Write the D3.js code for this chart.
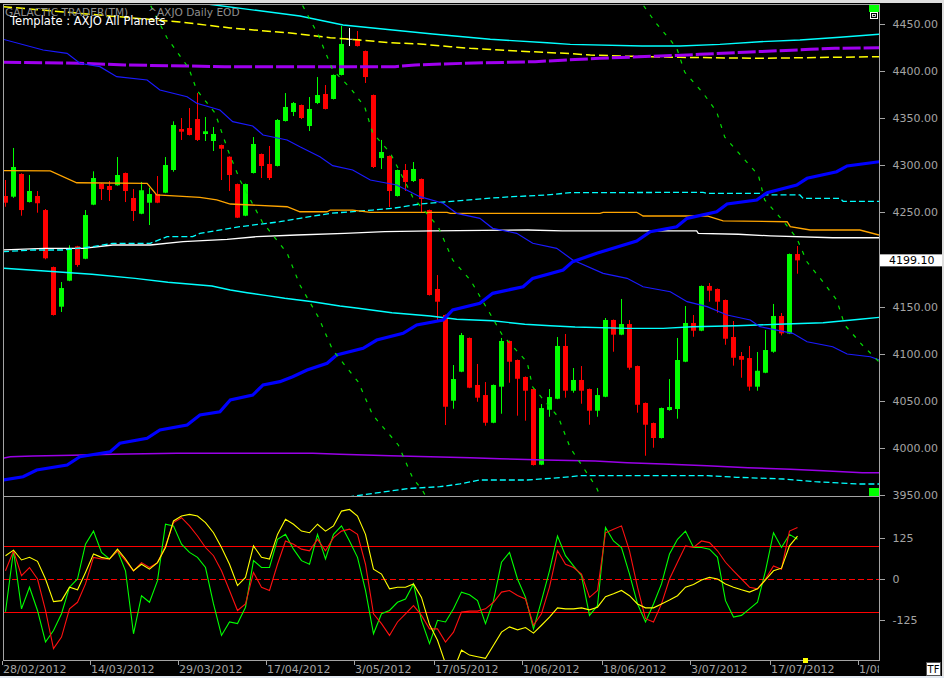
<!DOCTYPE html>
<html><head><meta charset="utf-8">
<script src="https://cdn.jsdelivr.net/npm/d3@7"></script>
<style>body{margin:0;background:#000;overflow:hidden}svg{display:block}</style>
</head><body>
<svg id="chart" width="944" height="678"></svg>
<script>
// ---- candle data (one per trading day, index 0 = 28/02/2012) ----
const opens = [4267.4,4266.7,4290.8,4261.0,4267.4,4252.5,4192.0,4149.9,4177.5,4214.0,4200.8,4258.2,4280.5,4278.0,4278.8,4291.8,4265.3,4248.6,4260.3,4269.5,
4270.9,4295.0,4338.5,4339.6,4349.1,4333.2,4325.8,4321.5,4309.1,4280.1,4246.5,4291.8,4312.0,4301.4,4299.3,4347.0,4356.6,4364.0,4341.7,4366.1,
4375.7,4370.4,4395.9,4433.8,4434.1,4421.3,4374.6,4307.7,4309.9,4267.4,4295.0,4283.3,4285.5,4252.5,4168.7,4141.1,4050.1,4080.9,4116.7,4066.8,
4056.1,4026.7,4065.0,4113.5,4093.3,4075.3,4062.5,3982.2,4040.5,4052.2,4108.2,4060.7,4072.1,4062.5,4039.5,4054.3,4135.8,4120.2,4131.5,4086.9,
4047.7,4026.4,4010.5,4040.2,4041.3,4091.5,4132.6,4124.4,4171.9,4168.7,4157.0,4117.7,4097.5,4095.4,4065.0,4079.8,4102.1,4140.0,4121.3,4205.8];
const highs = [4284.4,4318.4,4291.5,4289.7,4272.7,4253.6,4192.5,4176.1,4215.1,4214.5,4252.5,4293.6,4281.0,4283.3,4308.8,4292.3,4274.8,4282.3,4276.2,4288.6,
4308.8,4346.7,4350.2,4360.8,4376.7,4351.3,4340.7,4322.0,4309.6,4280.6,4280.6,4330.0,4312.5,4320.5,4349.1,4376.7,4367.2,4364.5,4372.5,4393.7,
4385.2,4396.4,4447.9,4445.8,4442.6,4421.8,4375.1,4326.9,4310.4,4295.5,4301.4,4303.5,4286.0,4253.0,4183.5,4141.6,4088.0,4122.0,4117.2,4089.1,
4069.9,4067.3,4116.7,4114.0,4093.8,4075.8,4063.0,4046.6,4062.5,4117.7,4120.9,4084.8,4086.9,4063.0,4063.6,4137.9,4136.3,4158.1,4135.8,4087.4,
4048.2,4026.9,4042.8,4073.1,4116.7,4150.6,4141.1,4172.4,4175.0,4169.2,4157.5,4134.7,4101.8,4108.2,4101.8,4125.1,4152.8,4143.2,4206.3,4214.3];
const lows = [4256.0,4265.5,4246.5,4260.5,4249.7,4200.2,4140.5,4144.3,4177.0,4192.3,4200.3,4257.7,4263.2,4262.1,4278.3,4261.0,4240.9,4248.1,4236.6,4259.8,
4270.4,4293.2,4326.9,4331.7,4325.8,4325.8,4315.2,4284.4,4272.7,4244.0,4246.0,4291.3,4286.5,4284.4,4298.8,4346.5,4352.3,4349.1,4336.4,4365.0,
4359.3,4369.9,4395.4,4426.6,4426.1,4387.4,4297.1,4296.1,4255.7,4266.9,4272.7,4282.3,4250.4,4161.8,4135.0,4024.3,4041.6,4080.4,4063.4,4049.0,
4023.6,4026.2,4036.3,4069.2,4034.2,4028.9,3981.3,3981.7,4033.1,4051.7,4053.3,4058.6,4046.9,4024.6,4033.1,4053.8,4102.1,4119.7,4083.0,4037.4,
3991.7,4000.2,4010.0,4039.5,4031.0,4091.0,4118.0,4123.9,4155.2,4143.5,4109.5,4087.3,4074.5,4060.7,4060.7,4079.3,4101.0,4119.5,4120.8,4184.9];
const closes = [4260.3,4298.2,4252.5,4272.7,4259.7,4201.3,4141.1,4169.7,4211.5,4194.2,4247.2,4286.5,4274.8,4273.8,4289.7,4272.7,4251.5,4273.5,4269.5,4260.3,
4300.3,4342.8,4335.7,4332.2,4326.9,4336.1,4333.2,4317.6,4289.7,4244.4,4280.1,4322.6,4299.3,4286.5,4348.1,4361.9,4366.1,4350.2,4359.8,4374.6,
4359.8,4395.9,4428.8,4433.8,4426.6,4393.7,4298.2,4314.1,4272.7,4295.0,4282.3,4296.1,4264.2,4162.3,4155.2,4043.7,4073.1,4119.8,4063.9,4053.3,
4026.7,4066.8,4113.5,4091.5,4073.4,4060.7,3981.8,4042.3,4054.0,4108.2,4060.7,4072.1,4060.7,4039.5,4056.1,4135.8,4120.2,4131.5,4085.1,4045.8,
4024.6,4010.5,4042.3,4043.4,4093.3,4132.6,4124.4,4171.9,4166.9,4155.2,4115.9,4095.7,4093.6,4065.0,4081.9,4103.9,4140.0,4121.6,4205.8,4199.1];
const lastPrice = 4199.10;

// ---- oscillator panel (one value per day) ----
const oscGreen = [-100,86,-91,-25,-96,-192,-157,-106,-25,0,106,146,81,61,86,25,-167,-51,-71,-5,
167,162,106,81,66,35,-76,-172,-131,-136,-86,56,35,35,121,136,91,56,45,136,
61,136,162,116,66,-35,-167,-106,-96,-71,-61,-15,-126,-197,-126,-131,-91,-40,-48,-66,
-136,-66,51,81,0,-56,-152,-66,25,131,71,40,10,-111,-81,157,116,96,15,-76,
-131,-76,-15,76,121,146,96,96,91,66,-66,-116,-111,-91,-71,25,141,96,136,121];
const oscRed = [25,86,10,35,0,-96,-212,-177,-91,-71,-15,66,61,61,86,56,25,50,35,50,
101,172,187,162,131,96,71,25,-35,-96,-76,20,-25,-35,45,116,106,91,86,121,
86,126,146,152,136,45,-106,-136,-172,-131,-106,-81,-111,-152,-152,-192,-162,-101,-98,-98,
-91,-71,-40,-35,-50,-61,-141,-106,-25,86,45,35,15,-56,-35,141,152,162,86,-25,
-121,-131,-76,0,51,101,96,116,111,86,51,25,0,-25,-30,0,40,30,146,157];
const oscYellow = [71,88,58,66,54,0,-69,-66,-25,-33,20,76,66,61,91,61,25,45,30,50,
96,177,192,197,192,172,141,96,45,-20,5,101,66,61,136,182,167,146,141,167,
146,162,207,212,192,136,30,15,-30,-25,-25,-15,-56,-139,-187,-258,-278,-217,-232,-237,
-242,-202,-162,-146,-155,-148,-165,-141,-116,-88,-91,-91,-88,-94,-86,-54,-45,-35,-51,-76,
-88,-88,-76,-64,-51,-25,-17,-3,5,0,-15,-25,-33,-40,-30,-3,25,33,101,131];
const oscLevels = [100, -100];

// ---- axis ticks (4200 label is covered by the last-price tag in the original) ----
const priceTicks = [3950,4000,4050,4100,4150,4250,4300,4350,4400,4450];
const oscTicks = [125, 0, -125];
const dateLabels = ["28/02/2012","14/03/2012","29/03/2012","17/04/2012","3/05/2012","17/05/2012","1/06/2012","18/06/2012","3/07/2012","17/07/2012","1/08/2012"];
const dateIndex = [0,11,22,33,44,54,65,75,86,96,107];

// ---- overlay (planet) lines: [day index, price] ----
const cyanTop = [[-1,4500],[25.2,4471.2],[36.8,4458.5],[42.2,4448.9],[48.4,4443.6],[53.4,4439.4],[60.6,4433.8],[67.7,4430.1],[70.6,4428.4],[79.6,4426.6],[84.3,4426.6],[89.3,4428.4],[94.3,4431.2],[99.3,4433],[104.3,4435.9],[109.2,4439.1]];
const yellowTop = [[-0.3,4468.4],[21.8,4452.1],[28.1,4445.8],[35.6,4440.4],[40.6,4435.5],[44.3,4433],[48.1,4430.1],[51.8,4428.8],[55.6,4425.9],[58.1,4424.2],[61.8,4422.4],[65.6,4420.6],[69.9,4418.9],[73.1,4417.1],[76.8,4416],[84.3,4414.6],[94.3,4413.6],[103.1,4414.6],[109.2,4415.3]];
const purpleTop = [[-0.3,4409.3],[9.3,4408.3],[14.9,4406.5],[27.4,4404.7],[48.7,4404.7],[51.2,4406.5],[57.4,4408.3],[66.2,4410],[71.2,4412.3],[74.3,4413.6],[81.8,4416],[86.8,4417.8],[92.4,4420],[96.8,4421.7],[100.6,4423.1],[103.7,4424.2],[109.2,4424.8]];
const blueThin = [[-0.3,4433.8],[4.7,4422.4],[7.7,4418.9],[9.3,4408.3],[11.8,4404.7],[13.9,4394.1],[17.7,4390.6],[19.3,4379.9],[22.7,4372.8],[23.9,4365.8],[26.8,4358.7],[28.4,4346.3],[30.9,4341.7],[32.2,4332.2],[35.2,4326.9],[36.8,4319.7],[39.3,4309.1],[40.9,4299.6],[43.4,4295],[45.6,4284.4],[48.9,4279.1],[51.8,4266.7],[54.7,4259.7],[56.4,4249],[59.3,4243.7],[60.9,4233.1],[63.9,4227.8],[65.9,4217.2],[68.9,4211.9],[70.9,4199.5],[74.7,4185.3],[77.7,4180],[79.7,4171.1],[83.1,4165.8],[85.2,4155.2],[87.7,4149.9],[90.2,4141.1],[93.1,4135.8],[94.3,4128.7],[98.4,4121.6],[100.2,4112.7],[103.4,4107.4],[105.2,4099.7],[108.1,4096.8],[109.2,4093.3]];
const blueThick = [[-0.3,3965.9],[2.2,3969.4],[3.9,3976.5],[7.7,3981.8],[9.3,3990.6],[13.1,3995.9],[14.3,4004.9],[17.7,4010.2],[19.3,4019],[22.7,4024.3],[24.3,4034.9],[26.8,4038.4],[28.1,4050.8],[30.9,4056.1],[32.2,4066.8],[34.3,4070.3],[35.9,4075.6],[37.7,4082.7],[40.2,4089.8],[41.4,4098.6],[44.7,4105.7],[46.4,4114.5],[49.7,4121.6],[51.4,4130.5],[54.7,4135.8],[55.9,4146.4],[59.3,4153.5],[60.9,4164.1],[64.7,4171.1],[65.9,4180],[69.7,4188.8],[70.9,4197.7],[73.9,4206.6],[78.9,4219.6],[80.6,4229.5],[83.9,4234.8],[85.2,4243.7],[88.9,4250.7],[90.2,4258.9],[93.9,4263.2],[95.2,4270.9],[98.9,4279.1],[100.2,4286.2],[103.9,4293.2],[105.2,4299.3],[109.2,4303.8]];
const orangeLine = [[-0.3,4294.3],[5.6,4294],[8.9,4281.5],[17.7,4280.9],[18.9,4268.5],[24.3,4266],[26.4,4263.2],[28.1,4258.9],[35.2,4256],[36.8,4250.7],[40.2,4250.7],[40.6,4252.5],[43.4,4252.5],[45.6,4250.1],[55.2,4250.1],[55.6,4249],[74.3,4249],[74.7,4250.1],[78.9,4250.1],[79.7,4246.2],[87.7,4246.2],[89.7,4240.9],[97.7,4240.1],[98.1,4234.8],[100.6,4231.3],[106.8,4231.3],[109.2,4226]];
const cyanDashMid = [[-0.3,4208.3],[3.4,4210.1],[7.2,4210.1],[10.9,4213.6],[13.4,4217.2],[18.1,4217.2],[20.2,4224.2],[23.4,4224.2],[24.3,4227.8],[29.3,4234.8],[34.3,4240.1],[36.8,4243.7],[40.6,4249],[45.9,4252.5],[48.4,4254.3],[51.8,4258.9],[55.2,4261.3],[60.2,4264.9],[63.4,4266.7],[67.7,4268.5],[70.6,4270.9],[87.2,4271.3],[87.7,4270.3],[94.3,4270.3],[94.7,4268.5],[99.3,4268.5],[99.7,4264.9],[104.3,4264.9],[104.7,4261.8],[109.2,4261.8]];
const whiteLine = [[-0.3,4210.1],[4.9,4211.9],[9.7,4211.9],[13.4,4215.4],[18.1,4215.4],[22.2,4218.9],[27.7,4221.4],[31.4,4224.2],[36.4,4226],[42.4,4227.8],[47.4,4229.5],[53.4,4230.3],[65.3,4231.3],[69.6,4230.3],[86.4,4230.3],[86.6,4227.8],[91.6,4226.8],[95.6,4225.1],[103.4,4223.1],[109.2,4223.1]];
const cyanLow = [[-0.3,4190.7],[4.9,4187.8],[10.8,4184.3],[16.2,4180],[20.3,4175.8],[25.8,4171.9],[28.1,4167.6],[30.2,4164.7],[32.7,4161.6],[34.9,4158.8],[38.4,4155.2],[41.8,4150.6],[44.1,4148.2],[48.3,4143.5],[53.1,4140],[56.4,4136.5],[60.9,4135],[64.9,4131.2],[68.1,4129.7],[71.2,4128.3],[77.8,4126.9],[82.2,4126.9],[85.9,4128.6],[91.4,4129.7],[96.6,4131.2],[102.2,4132.9],[106.8,4136.5],[109.2,4138.6]];
const purpleLow = [[-0.3,3989],[0.6,3990.6],[3.4,3991.4],[8.4,3992.1],[13.4,3993.2],[21.4,3994.3],[38.4,3994.3],[41.8,3993.2],[48.1,3991.7],[53.1,3990.6],[58.1,3989.6],[61.8,3988.5],[67.4,3987.1],[73.7,3986.1],[77.7,3984.3],[82.2,3982.9],[87.7,3981.1],[92.8,3979],[98.1,3977.3],[102.2,3975.8],[107.1,3973.7],[109.2,3973.7]];
const cyanDashLow = [[40.6,3944.7],[43.1,3948.2],[46,3951.8],[50.6,3957.1],[54.3,3958.8],[56.8,3961.7],[59.3,3965.9],[65.2,3965.9],[68.1,3967.7],[70.6,3969.4],[71.8,3970.5],[87.7,3970.5],[91.4,3968.8],[97.2,3967],[101.2,3964.1],[106.6,3961.7],[109.2,3961.7]];
const greenArc1 = [[17.6,4480],[18.1,4470.2],[20.2,4435.1],[22.9,4403.3],[23.9,4379.9],[26.2,4355.5],[27.8,4316.2],[29.3,4284.4],[32.1,4239.8],[35.2,4206.9],[36.8,4172.9],[39.1,4139],[40.9,4103.9],[44.1,4069.9],[45.9,4034.9],[49.1,4003.1],[50.9,3968],[52.1,3955.3],[52.8,3944.7]];
const greenArc2 = [[36.5,4480],[37.1,4470.2],[39.1,4438.3],[40.9,4401.2],[43.1,4382.1],[44.9,4361.9],[45.9,4334.3],[48.1,4313.1],[50.9,4266.3],[54.1,4234.5],[55.9,4199.5],[58.1,4178.3],[60.3,4146.4],[62.1,4119.8],[65.2,4091.2],[65.9,4064.6],[69.1,4032.8],[70.6,3999.9],[73.1,3968],[73.9,3957.4],[74.5,3945]];
const greenArc3 = [[79.2,4480],[79.7,4470.2],[81.2,4452.1],[83.1,4433],[83.9,4424.5],[84.9,4399],[87.2,4376.7],[88.9,4356.6],[89.9,4330],[92.1,4308.8],[94.1,4289.7],[94.9,4263.2],[97.1,4241.9],[98.9,4222.8],[100.2,4197.3],[102.2,4176.1],[103.9,4157],[104.9,4130.5],[107.1,4109.2],[108.1,4100.7],[109.2,4091.2]];

// ---- build ----
const svg = d3.select('#chart');
const W = 944, H = 678;
const L = 3, R = 879, T = 4, MB = 496, OB = 660;
const FONT = '"DejaVu Sans", Verdana, sans-serif';
const GREY = '#a4a4a4';

svg.append('rect').attr('width', W).attr('height', H).attr('fill', '#000');

const x = d3.scaleLinear().domain([-0.3125, 109.1875]).range([L, R]);
const y = d3.scaleLinear().domain([3950, 4450]).range([495, 24]);
const yo = d3.scaleLinear().domain([-125, 125]).range([620, 538]);

const defs = svg.append('defs');
defs.append('clipPath').attr('id', 'cm').append('rect').attr('x', L + 1).attr('y', T + 1).attr('width', R - L - 1).attr('height', MB - T - 1);
defs.append('clipPath').attr('id', 'co').append('rect').attr('x', L + 1).attr('y', MB + 1).attr('width', R - L - 1).attr('height', OB - MB - 1);
defs.append('clipPath').attr('id', 'cx').append('rect').attr('x', 0).attr('y', OB).attr('width', R).attr('height', H - OB);

const main = svg.append('g').attr('clip-path', 'url(#cm)');
const osc = svg.append('g').attr('clip-path', 'url(#co)');

// candles
const days = d3.range(opens.length);
const candleCol = i => closes[i] > opens[i] ? '#00ff00' : (closes[i] < opens[i] ? '#ff0000' : '#ffffff');
main.append('g').selectAll('rect').data(days.filter(i => closes[i] !== opens[i])).join('rect')
  .attr('x', i => x(i) - 0.5).attr('width', 1)
  .attr('y', i => y(highs[i])).attr('height', i => y(lows[i]) - y(highs[i]))
  .attr('fill', candleCol);
main.append('g').selectAll('rect').data(days.filter(i => closes[i] !== opens[i])).join('rect')
  .attr('x', i => x(i) - 2.5).attr('width', 5)
  .attr('y', i => y(Math.max(opens[i], closes[i])))
  .attr('height', i => Math.max(1, Math.abs(y(opens[i]) - y(closes[i]))))
  .attr('fill', candleCol);
// doji (open == close) drawn as white cross
const dj = main.append('g').selectAll('g').data(days.filter(i => closes[i] === opens[i])).join('g');
dj.append('rect').attr('x', i => x(i) - 0.5).attr('width', 1).attr('y', i => y(highs[i])).attr('height', i => y(lows[i]) - y(highs[i])).attr('fill', '#fff');
dj.append('rect').attr('x', i => x(i) - 3).attr('width', 6).attr('y', i => y(opens[i]) - 0.5).attr('height', 1).attr('fill', '#fff');

// overlay lines
const ln = d3.line().x(d => x(d[0])).y(d => y(d[1]));
const overlays = [
  {d: purpleLow, c: '#9a00e8', w: 1.5, dash: null},
  {d: cyanDashLow, c: '#00ffff', w: 1.3, dash: '6,3'},
  {d: cyanLow, c: '#00ffff', w: 1.4, dash: null},
  {d: whiteLine, c: '#ffffff', w: 1.3, dash: null},
  {d: cyanDashMid, c: '#00ffff', w: 1.3, dash: '6,3'},
  {d: orangeLine, c: '#ffa500', w: 1.3, dash: null},
  {d: cyanTop, c: '#00ffff', w: 1.4, dash: null},
  {d: yellowTop, c: '#ffff00', w: 1.5, dash: '9,4'},
  {d: purpleTop, c: '#a000f0', w: 3, dash: '18,3'},
  {d: blueThin, c: '#1a1aff', w: 1.2, dash: null},
  {d: blueThick, c: '#0000ff', w: 3.2, dash: null},
  {d: greenArc1, c: '#00e000', w: 1.2, dash: '4,7'},
  {d: greenArc2, c: '#00e000', w: 1.2, dash: '4,7'},
  {d: greenArc3, c: '#00e000', w: 1.2, dash: '4,7'}
];
main.append('g').selectAll('path').data(overlays).join('path')
  .attr('d', o => ln(o.d)).attr('fill', 'none')
  .attr('stroke', o => o.c).attr('stroke-width', o => o.w)
  .attr('stroke-dasharray', o => o.dash);

// oscillator panel
osc.append('g').selectAll('line').data(oscLevels).join('line')
  .attr('x1', L).attr('x2', R).attr('y1', v => Math.round(yo(v)) + 0.5).attr('y2', v => Math.round(yo(v)) + 0.5)
  .attr('stroke', '#ff0000').attr('stroke-width', 1);
osc.append('line').attr('x1', L).attr('x2', R).attr('y1', Math.round(yo(0)) + 0.5).attr('y2', Math.round(yo(0)) + 0.5)
  .attr('stroke', '#ff0000').attr('stroke-width', 1.2).attr('stroke-dasharray', '6,3');
const ol = d3.line().x((v, i) => x(i)).y(v => yo(v));
osc.append('g').selectAll('path').data([[oscGreen, '#00ff00'], [oscRed, '#ff1010'], [oscYellow, '#ffff00']]).join('path')
  .attr('d', d => ol(d[0])).attr('fill', 'none').attr('stroke', d => d[1]).attr('stroke-width', 1.1);

// frame
const frame = svg.append('g').attr('stroke', GREY).attr('stroke-width', 1).attr('shape-rendering', 'crispEdges');
frame.append('line').attr('x1', L + 0.5).attr('x2', L + 0.5).attr('y1', T).attr('y2', OB + 1);
frame.append('line').attr('x1', R + 0.5).attr('x2', R + 0.5).attr('y1', T).attr('y2', OB + 1);
frame.append('line').attr('x1', L).attr('x2', R + 1).attr('y1', T + 0.5).attr('y2', T + 0.5);
frame.append('line').attr('x1', L).attr('x2', R + 1).attr('y1', MB + 0.5).attr('y2', MB + 0.5);
frame.append('line').attr('x1', L).attr('x2', R + 1).attr('y1', OB + 0.5).attr('y2', OB + 0.5);
svg.append('rect').attr('x', 0).attr('y', 0).attr('width', W).attr('height', 3).attr('fill', '#dedede');
svg.append('rect').attr('x', 942).attr('y', 0).attr('width', 2).attr('height', H).attr('fill', '#dedede');
svg.append('rect').attr('x', 0).attr('y', 676).attr('width', W).attr('height', 2).attr('fill', '#e4eaf2');

// axes
function styleAxis(g) {
  g.select('.domain').remove();
  g.selectAll('.tick line').attr('stroke', GREY).attr('shape-rendering', 'crispEdges');
  g.selectAll('.tick text').attr('fill', GREY).style('font-family', FONT).style('font-size', '11px');
}
svg.append('g').attr('transform', `translate(${R + 0.5},0)`)
  .call(d3.axisRight(y).tickValues(priceTicks).tickFormat(d3.format('.2f')).tickSize(5).tickPadding(8))
  .call(styleAxis);
svg.append('g').attr('transform', `translate(${R + 0.5},0)`)
  .call(d3.axisRight(yo).tickValues(oscTicks).tickFormat(d => String(d)).tickSize(5).tickPadding(8))
  .call(styleAxis);
const xa = svg.append('g').attr('clip-path', 'url(#cx)').append('g').attr('transform', `translate(-4,${OB + 0.5})`)
  .call(d3.axisBottom(x).tickValues(dateIndex).tickFormat((d, i) => dateLabels[i]).tickSize(4).tickPadding(1))
  .call(styleAxis);
xa.selectAll('.tick text').attr('text-anchor', 'start').attr('dx', 1);

// last price tag
const tag = svg.append('g').attr('transform', `translate(0,${y(lastPrice)})`);
tag.append('rect').attr('x', R + 1).attr('y', -6).attr('width', 62).attr('height', 12).attr('fill', '#ffffff');
tag.append('text').attr('x', 889).attr('y', 4).attr('fill', '#000').style('font-family', FONT).style('font-size', '11px').text(d3.format('.2f')(lastPrice));

// header texts
svg.append('text').attr('x', 5).attr('y', 16).attr('fill', '#8e8e8e').style('font-family', FONT).style('font-size', '10.6px').text('GALACTIC TRADER(TM)');
svg.append('text').attr('x', 148).attr('y', 16).attr('fill', '#8e8e8e').style('font-family', FONT).style('font-size', '10.6px').text('^AXJO Daily EOD');
svg.append('text').attr('x', 10).attr('y', 25).attr('fill', '#ffffff').style('font-family', FONT).style('font-size', '11.5px').text('Template : AXJO All Planets');

// small widgets
svg.append('rect').attr('x', 869).attr('y', 5).attr('width', 10).attr('height', 7).attr('fill', '#00ff00');
svg.append('rect').attr('x', 870.5).attr('y', 12.5).attr('width', 7).attr('height', 6).attr('fill', '#000').attr('stroke', '#fff');
svg.append('rect').attr('x', 872.5).attr('y', 14.5).attr('width', 3).attr('height', 2).attr('fill', '#000').attr('stroke', '#fff').attr('stroke-width', 0.8);
svg.append('rect').attr('x', 869).attr('y', 488).attr('width', 10).attr('height', 8).attr('fill', '#00ff00');
svg.append('rect').attr('x', x(100) - 2.5).attr('y', 658).attr('width', 5).attr('height', 5).attr('fill', '#ffff00');
svg.append('rect').attr('x', 926.5).attr('y', 662.5).attr('width', 14).attr('height', 13).attr('fill', '#fff').attr('stroke', '#555');
svg.append('text').attr('x', 933.5).attr('y', 673).attr('text-anchor', 'middle').attr('fill', '#000').style('font-family', FONT).style('font-size', '10px').text('TF');
</script>
</body></html>
